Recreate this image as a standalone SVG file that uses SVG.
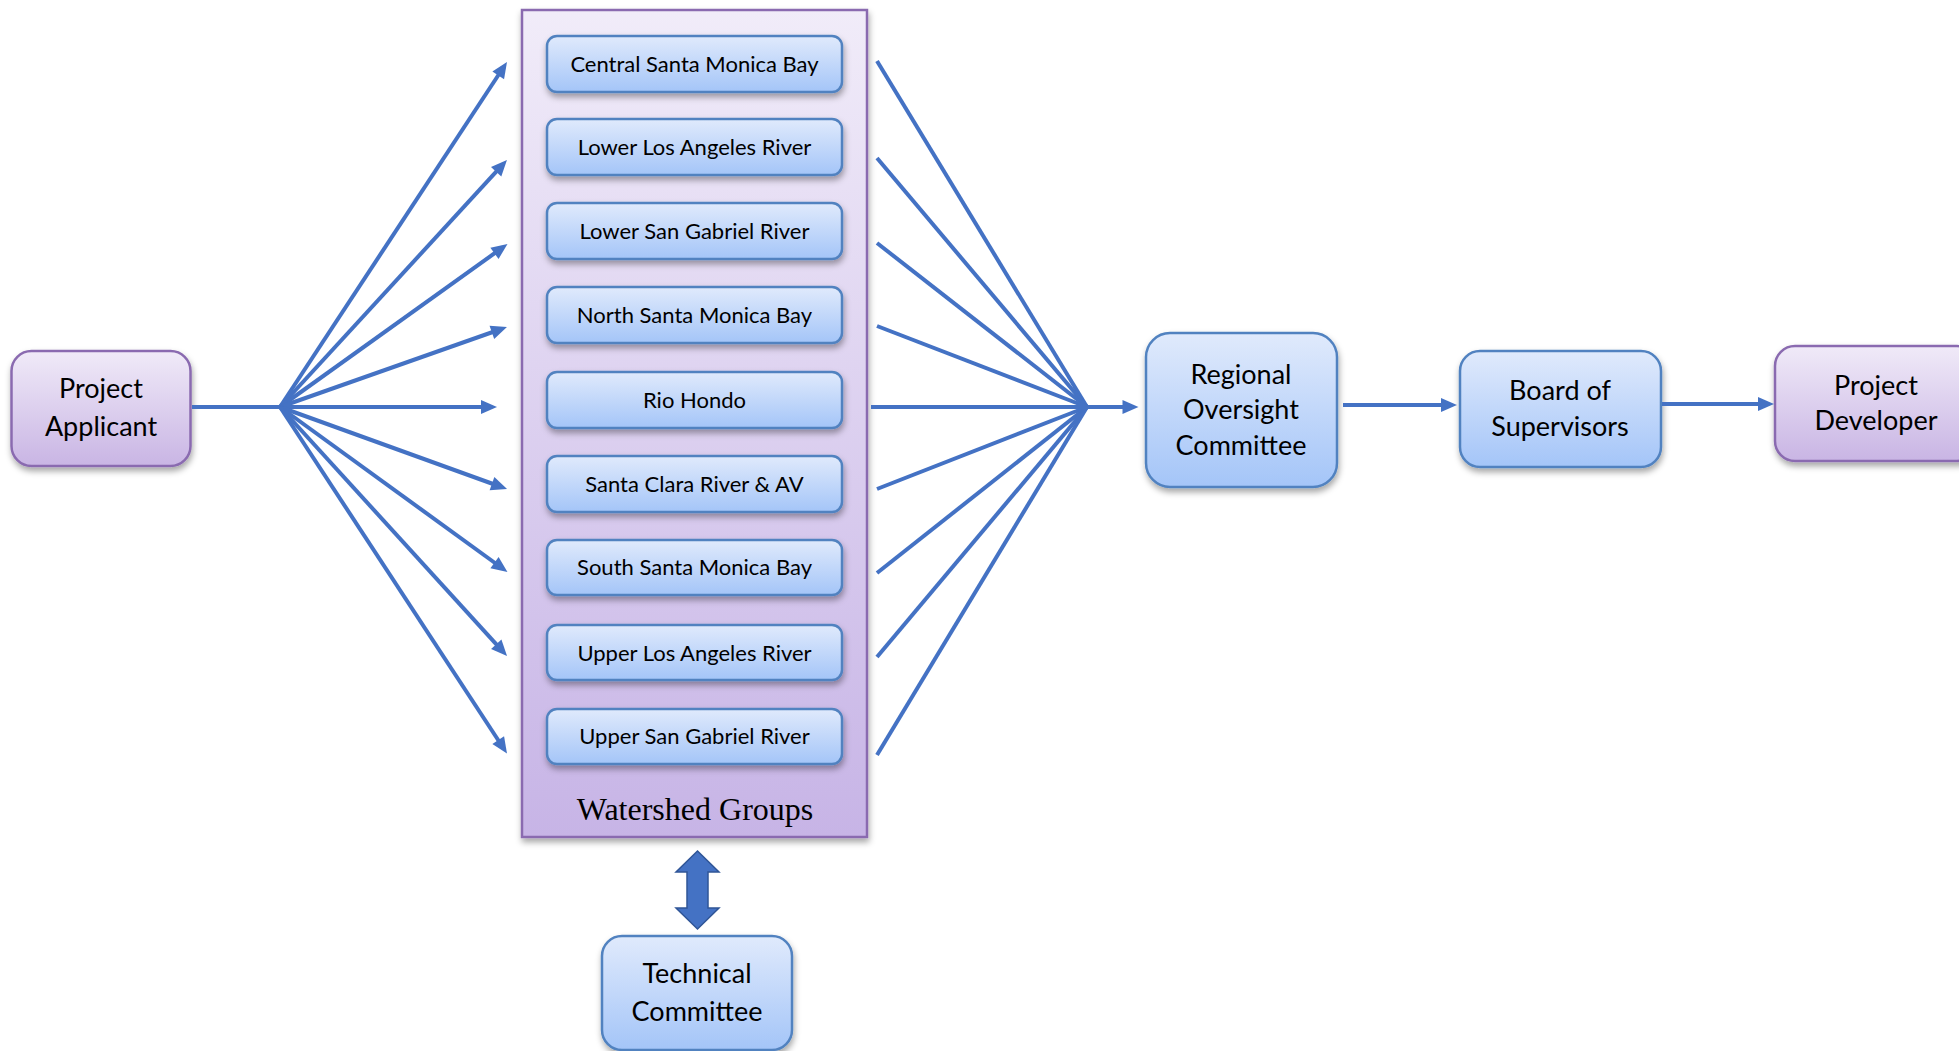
<svg xmlns="http://www.w3.org/2000/svg" width="1959" height="1051" viewBox="0 0 1959 1051">
<style>
.blue{fill:url(#gBlue);stroke:#5182c0;stroke-width:2.5}
.purp{fill:url(#gPurp);stroke:#8a6bb0;stroke-width:2.5}
.lbl{font-family:Lato,"Open Sans","Liberation Sans",sans-serif;font-size:22px;fill:#000;text-anchor:middle}
.big{font-family:Lato,"Open Sans","Liberation Sans",sans-serif;font-size:27px;fill:#000;text-anchor:middle}
.con{stroke:#4472c4;stroke-width:4;fill:none}
.arr{marker-end:url(#ah)}
</style>
<defs>
<linearGradient id="gBlue" x1="0" y1="0" x2="0" y2="1">
<stop offset="0" stop-color="#e0eafc"/><stop offset="1" stop-color="#a4c5f8"/>
</linearGradient>
<linearGradient id="gPurp" x1="0" y1="0" x2="0" y2="1">
<stop offset="0" stop-color="#f0eaf8"/><stop offset="1" stop-color="#c9b5e4"/>
</linearGradient>
<linearGradient id="gCont" x1="0" y1="0" x2="0" y2="1">
<stop offset="0" stop-color="#f1ecf9"/><stop offset="1" stop-color="#c7b4e6"/>
</linearGradient>
<filter id="sh" x="-10%" y="-10%" width="125%" height="135%">
<feDropShadow dx="1" dy="4" stdDeviation="3" flood-color="#000" flood-opacity="0.35"/>
</filter>
<marker id="ah" markerUnits="userSpaceOnUse" markerWidth="20" markerHeight="16" viewBox="0 -8 18 16" refX="10" refY="0" orient="auto">
<path d="M0,-7 L16,0 L0,7 z" fill="#4472c4"/>
</marker>
</defs>

<g id="watershed-groups">
<rect x="522" y="10" width="345" height="827" fill="url(#gCont)" stroke="#8a6bb0" stroke-width="2.5" filter="url(#sh)"/>
<text x="695" y="820" font-family="'Liberation Serif','Times New Roman',serif" font-size="32" text-anchor="middle" fill="#000">Watershed Groups</text>
</g>

<g id="ws-1"><rect class="blue" x="547" y="36" width="295" height="56" rx="10" filter="url(#sh)"/><text class="lbl" x="694.5" y="72">Central Santa Monica Bay</text></g>
<g id="ws-2"><rect class="blue" x="547" y="119" width="295" height="56" rx="10" filter="url(#sh)"/><text class="lbl" x="694.5" y="155">Lower Los Angeles River</text></g>
<g id="ws-3"><rect class="blue" x="547" y="203" width="295" height="56" rx="10" filter="url(#sh)"/><text class="lbl" x="694.5" y="239">Lower San Gabriel River</text></g>
<g id="ws-4"><rect class="blue" x="547" y="287" width="295" height="56" rx="10" filter="url(#sh)"/><text class="lbl" x="694.5" y="323">North Santa Monica Bay</text></g>
<g id="ws-5"><rect class="blue" x="547" y="372" width="295" height="56" rx="10" filter="url(#sh)"/><text class="lbl" x="694.5" y="408">Rio Hondo</text></g>
<g id="ws-6"><rect class="blue" x="547" y="456" width="295" height="56" rx="10" filter="url(#sh)"/><text class="lbl" x="694.5" y="492">Santa Clara River &amp; AV</text></g>
<g id="ws-7"><rect class="blue" x="547" y="540" width="295" height="55" rx="10" filter="url(#sh)"/><text class="lbl" x="694.5" y="575">South Santa Monica Bay</text></g>
<g id="ws-8"><rect class="blue" x="547" y="625" width="295" height="55" rx="10" filter="url(#sh)"/><text class="lbl" x="694.5" y="661">Upper Los Angeles River</text></g>
<g id="ws-9"><rect class="blue" x="547" y="709" width="295" height="55" rx="10" filter="url(#sh)"/><text class="lbl" x="694.5" y="744">Upper San Gabriel River</text></g>

<g id="project-applicant"><rect class="purp" x="11.5" y="351" width="179" height="115" rx="20" filter="url(#sh)"/><text class="big" x="101" y="398">Project</text><text class="big" x="101" y="436">Applicant</text></g>
<g id="regional-oversight-committee"><rect class="blue" x="1146" y="333" width="191" height="154" rx="24" filter="url(#sh)"/><text class="big" x="1241" y="384">Regional</text><text class="big" x="1241" y="419">Oversight</text><text class="big" x="1241" y="455">Committee</text></g>
<g id="board-of-supervisors"><rect class="blue" x="1460" y="351" width="201" height="116" rx="20" filter="url(#sh)"/><text class="big" x="1560" y="400">Board of</text><text class="big" x="1560" y="436">Supervisors</text></g>
<g id="project-developer"><rect class="purp" x="1775" y="346" width="202" height="115" rx="20" filter="url(#sh)"/><text class="big" x="1876" y="395">Project</text><text class="big" x="1876" y="430">Developer</text></g>
<g id="technical-committee"><rect class="blue" x="602" y="936" width="190" height="114" rx="20" filter="url(#sh)"/><text class="big" x="697" y="983">Technical</text><text class="big" x="697" y="1021">Committee</text></g>

<g id="connectors">
<line class="con" x1="192" y1="407" x2="281" y2="407"/>
<line class="con arr" x1="280" y1="407" x2="503.7" y2="67"/>
<line class="con arr" x1="280" y1="407" x2="502.9" y2="164.4"/>
<line class="con arr" x1="280" y1="407" x2="502.6" y2="247.5"/>
<line class="con arr" x1="280" y1="407" x2="501.3" y2="329"/>
<line class="con arr" x1="280" y1="407" x2="491" y2="407"/>
<line class="con arr" x1="280" y1="407" x2="501.4" y2="487"/>
<line class="con arr" x1="280" y1="407" x2="502.6" y2="568.5"/>
<line class="con arr" x1="280" y1="407" x2="503" y2="651.6"/>
<line class="con arr" x1="280" y1="407" x2="503.7" y2="748.5"/>

<line class="con" x1="877" y1="61" x2="1087" y2="407"/>
<line class="con" x1="877" y1="158" x2="1087" y2="407"/>
<line class="con" x1="877" y1="243" x2="1087" y2="407"/>
<line class="con" x1="877" y1="326" x2="1087" y2="407"/>
<line class="con" x1="877" y1="489" x2="1087" y2="407"/>
<line class="con" x1="877" y1="573" x2="1087" y2="407"/>
<line class="con" x1="877" y1="657" x2="1087" y2="407"/>
<line class="con" x1="877" y1="755" x2="1087" y2="407"/>
<line class="con arr" x1="871" y1="407" x2="1132.5" y2="407"/>

<line class="con arr" x1="1343" y1="405" x2="1451" y2="405"/>
<line class="con arr" x1="1662" y1="404" x2="1768" y2="404"/>

<polygon points="697.5,851 719,872 708,872 708,908 719,908 697.5,929 676,908 687,908 687,872 676,872" fill="#4472c4" stroke="#2f5597" stroke-width="1.5" stroke-linejoin="miter"/>
</g>
</svg>
